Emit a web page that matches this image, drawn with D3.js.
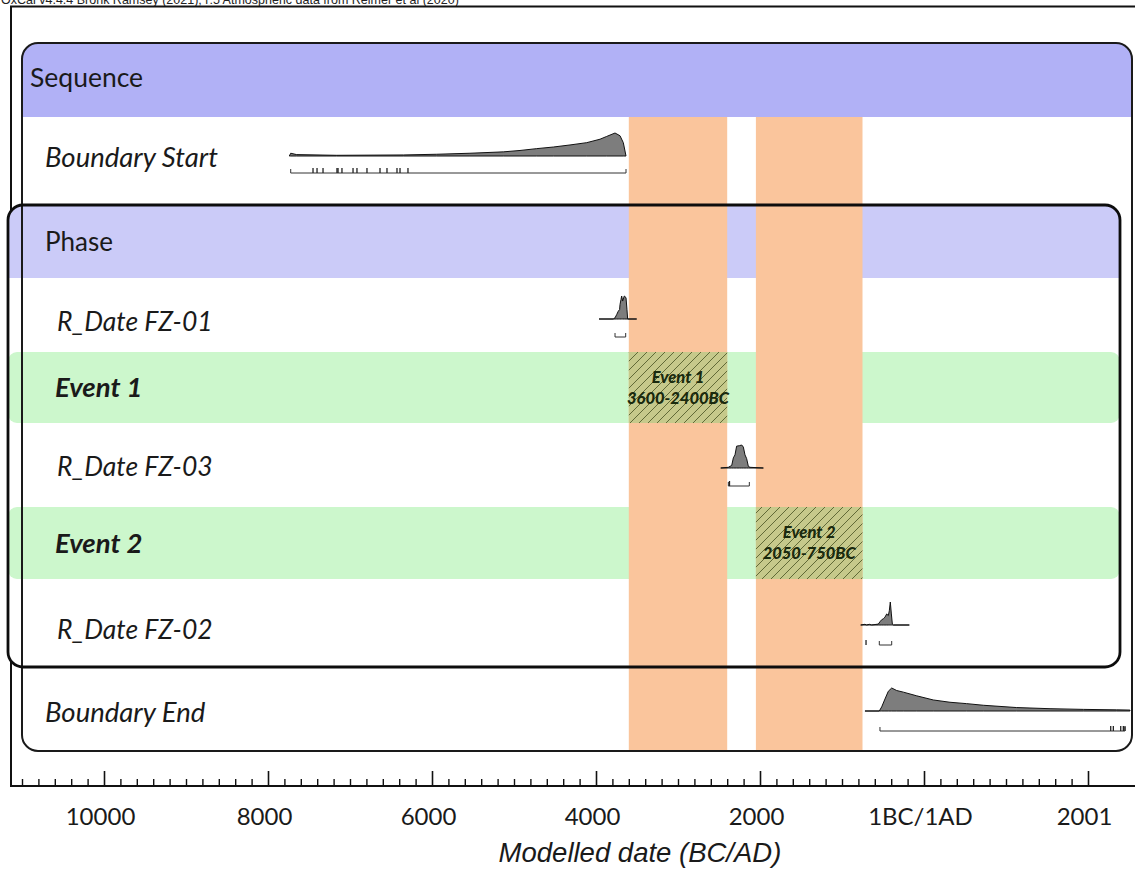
<!DOCTYPE html>
<html>
<head>
<meta charset="utf-8">
<script src="https://cdn.jsdelivr.net/npm/d3@7"></script>
<style>
  body { margin: 0; background: #fff; }
  svg { display: block; }
</style>
</head>
<body>
<svg id="chart" width="1135" height="877"></svg>
<script>
// ---- Data -----------------------------------------------------------------
// Axis ticks (astronomical year, 1BC/1AD boundary at 0)
const tickYears  = [-10000, -8000, -6000, -4000, -2000, 0, 2000];
const tickLabels = ["10000", "8000", "6000", "4000", "2000", "1BC/1AD", "2001"];
const minorTickYears = d3.range(-11000, 2001, 200);

// Highlighted event ranges (BC)
const eventNames  = ["Event 1", "Event 2"];
const eventRanges = [[-3600, -2400], [-2050, -750]];
const eventTexts  = ["3600-2400BC", "2050-750BC"];

// Posterior distributions: [year, relative probability]
const boundaryStartProb = [
  [-7740, 0], [-7723, 0.12], [-7650, 0.06], [-7162, 0.03], [-6350, 0.045],
  [-5943, 0.076], [-5537, 0.12], [-5130, 0.18], [-4927, 0.24], [-4723, 0.32],
  [-4520, 0.39], [-4317, 0.48], [-4113, 0.58], [-3951, 0.73], [-3870, 0.85],
  [-3768, 1.0], [-3707, 0.88], [-3667, 0.58], [-3634, 0]
];
const fz01Prob = [
  [-3963, 0], [-3790, 0], [-3768, 0.05], [-3748, 0.19], [-3728, 0.34],
  [-3712, 0.41], [-3707, 0.63], [-3695, 0.85], [-3687, 1.0], [-3675, 0.78],
  [-3655, 1.0], [-3634, 0.93], [-3622, 0.4], [-3614, 0], [-3504, 0]
];
const fz03Prob = [
  [-2479, 0], [-2386, 0.03], [-2366, 0.07], [-2345, 0.11], [-2325, 0.44],
  [-2305, 0.57], [-2285, 0.95], [-2252, 0.97], [-2223, 1.0], [-2203, 0.91],
  [-2183, 0.57], [-2163, 0.41], [-2142, 0.07], [-2122, 0.03], [-1959, 0]
];
const fz02Prob = [
  [-772, 0], [-720, 0.03], [-700, 0], [-667, 0.03], [-638, 0], [-557, 0.04],
  [-537, 0.14], [-516, 0.23], [-496, 0.27], [-476, 0.34], [-455, 0.48],
  [-435, 0.41], [-423, 0.62], [-411, 1.0], [-398, 0.48], [-386, 0.04],
  [-374, 0], [-179, 0]
];
const boundaryEndProb = [
  [-720, 0], [-545, 0], [-516, 0.18], [-476, 0.52], [-435, 0.86], [-394, 1.0],
  [-333, 0.89], [-252, 0.82], [-89, 0.66], [113, 0.48], [317, 0.38],
  [520, 0.32], [723, 0.25], [1130, 0.15], [1537, 0.1], [1943, 0.07],
  [2350, 0.05], [2512, 0.04]
];

// 95.4% ranges and 68.2% sub-ranges
const boundaryStartRange = [-7723, -3634];
const boundaryStartSub = [[-7451, -7402], [-7329, -7159], [-7146, -7098],
  [-6963, -6915], [-6793, -6793], [-6634, -6634], [-6549, -6427], [-6390, -6293]];
const fz01Range = [-3768, -3638];
const fz03Range = [-2386, -2130];
const fz03Sub = [[-2372, -2372]];
const fz02Range = [-545, -394];
const fz02Sub = [[-707, -707]];
const boundaryEndRange = [-537, 2451];
const boundaryEndSub = [[2277, 2309], [2399, 2399], [2431, 2451]];

// ---- Layout -----------------------------------------------------------------
const svg = d3.select("#chart");
const W = 1135;
const axisY = 786;

const x = d3.scaleLinear().domain([-10000, 2000]).range([104, 1088]);
const h = d3.scaleLinear().domain([0, 1]).range([0, 23]);

const seqBox   = { x0: 22, x1: 1132, y0: 43, y1: 751, head: 117 };
const phaseBox = { x0: 8, x1: 1120, y0: 205, y1: 667, head: 278 };
const eventBands = [{ y0: 352, y1: 423 }, { y0: 507, y1: 579 }];

const defs = svg.append("defs");
defs.append("clipPath").attr("id", "seqClip").append("rect")
  .attr("x", seqBox.x0).attr("y", seqBox.y0)
  .attr("width", seqBox.x1 - seqBox.x0).attr("height", seqBox.y1 - seqBox.y0)
  .attr("rx", 16);
defs.append("clipPath").attr("id", "phaseClip").append("rect")
  .attr("x", phaseBox.x0).attr("y", phaseBox.y0)
  .attr("width", phaseBox.x1 - phaseBox.x0).attr("height", phaseBox.y1 - phaseBox.y0)
  .attr("rx", 15);

const hatch = defs.append("pattern").attr("id", "hatch")
  .attr("patternUnits", "userSpaceOnUse").attr("width", 9).attr("height", 9);
hatch.append("rect").attr("width", 9).attr("height", 9).attr("fill", "#c6c98b");
hatch.append("path").attr("d", "M-1,1 l2,-2 M0,9 l9,-9 M8,10 l2,-2")
  .attr("stroke", "#56602e").attr("stroke-width", 0.9);

// Header line of the program output
svg.append("text").attr("x", 1).attr("y", 4)
  .style("font-family", "'Liberation Sans', Arial, sans-serif").style("font-size", "12.5px")
  .attr("fill", "#222")
  .text("OxCal v4.4.4 Bronk Ramsey (2021); r:5 Atmospheric data from Reimer et al (2020)");

// Outer frame (its bottom edge is the date axis)
svg.append("path")
  .attr("d", `M${W + 5},6.5 H11 V${axisY} H${W + 5}`)
  .attr("fill", "none").attr("stroke", "#111").attr("stroke-width", 2);

// Sequence box
svg.append("rect")
  .attr("x", seqBox.x0).attr("y", seqBox.y0)
  .attr("width", seqBox.x1 - seqBox.x0).attr("height", seqBox.y1 - seqBox.y0)
  .attr("rx", 16).attr("fill", "#fff");
svg.append("rect").attr("clip-path", "url(#seqClip)")
  .attr("x", seqBox.x0).attr("y", seqBox.y0)
  .attr("width", seqBox.x1 - seqBox.x0).attr("height", seqBox.head - seqBox.y0)
  .attr("fill", "#b1b1f6");

// Phase box
svg.append("rect")
  .attr("x", phaseBox.x0).attr("y", phaseBox.y0)
  .attr("width", phaseBox.x1 - phaseBox.x0).attr("height", phaseBox.y1 - phaseBox.y0)
  .attr("rx", 15).attr("fill", "#fff");
svg.append("rect").attr("clip-path", "url(#phaseClip)")
  .attr("x", phaseBox.x0).attr("y", phaseBox.y0)
  .attr("width", phaseBox.x1 - phaseBox.x0).attr("height", phaseBox.head - phaseBox.y0)
  .attr("fill", "#cbcbf8");

// Event rows
svg.selectAll("rect.eventBand").data(eventBands).join("rect")
  .attr("class", "eventBand")
  .attr("x", phaseBox.x0).attr("y", d => d.y0)
  .attr("width", phaseBox.x1 - phaseBox.x0).attr("height", d => d.y1 - d.y0)
  .attr("rx", 9).attr("fill", "#ccf7cc");

// Event date ranges spanning the sequence
svg.selectAll("rect.eventSpan").data(eventRanges).join("rect")
  .attr("class", "eventSpan")
  .attr("x", d => x(d[0])).attr("width", d => x(d[1]) - x(d[0]))
  .attr("y", seqBox.head).attr("height", seqBox.y1 - seqBox.head)
  .attr("fill", "#fac59c");

// Box outlines
svg.append("rect")
  .attr("x", seqBox.x0).attr("y", seqBox.y0)
  .attr("width", seqBox.x1 - seqBox.x0).attr("height", seqBox.y1 - seqBox.y0)
  .attr("rx", 16).attr("fill", "none").attr("stroke", "#1a1a1a").attr("stroke-width", 2);
svg.append("rect")
  .attr("x", phaseBox.x0).attr("y", phaseBox.y0)
  .attr("width", phaseBox.x1 - phaseBox.x0).attr("height", phaseBox.y1 - phaseBox.y0)
  .attr("rx", 15).attr("fill", "none").attr("stroke", "#0d0d0d").attr("stroke-width", 2.8);

// Hatched event boxes with their labels
eventRanges.forEach((r, i) => {
  const band = eventBands[i];
  svg.append("rect")
    .attr("x", x(r[0])).attr("width", x(r[1]) - x(r[0]))
    .attr("y", band.y0).attr("height", band.y1 - band.y0)
    .attr("fill", "url(#hatch)");
  const cx = (x(r[0]) + x(r[1])) / 2, cy = (band.y0 + band.y1) / 2;
  const t = svg.append("text").attr("text-anchor", "middle")
    .style("font-family", "Lato, 'Open Sans', sans-serif")
    .style("font-weight", "900").style("font-style", "italic").style("font-size", "16.5px")
    .attr("fill", "#1a2a0e");
  t.append("tspan").attr("x", cx).attr("y", cy - 5).text(eventNames[i]);
  t.append("tspan").attr("x", cx).attr("y", cy + 16).text(eventTexts[i]);
});

// Distributions
const rows = [
  { prob: boundaryStartProb, base: 156, range: boundaryStartRange, sub: boundaryStartSub, rangeY: 173 },
  { prob: fz01Prob,          base: 319, range: fz01Range,          sub: [],               rangeY: 337 },
  { prob: fz03Prob,          base: 468, range: fz03Range,          sub: fz03Sub,          rangeY: 486 },
  { prob: fz02Prob,          base: 625, range: fz02Range,          sub: fz02Sub,          rangeY: 645 },
  { prob: boundaryEndProb,   base: 711, range: boundaryEndRange,   sub: boundaryEndSub,   rangeY: 731 }
];

rows.forEach(row => {
  const area = d3.area()
    .x(d => x(d[0])).y0(row.base).y1(d => row.base - h(d[1]));
  svg.append("path").datum(row.prob).attr("d", area)
    .attr("fill", "#7d7d7d").attr("stroke", "#111").attr("stroke-width", 1)
    .attr("stroke-linejoin", "round");
  const [a, b] = row.range;
  svg.append("path")
    .attr("d", `M${x(a)},${row.rangeY - 4} V${row.rangeY} H${x(b)} V${row.rangeY - 4}`)
    .attr("fill", "none").attr("stroke", "#333").attr("stroke-width", 1);
  // 68.2% sub-ranges drawn as short end marks
  svg.selectAll(null).data(row.sub.flatMap(d => d[0] === d[1] ? [d[0]] : [d[0], d[1]]))
    .join("line")
    .attr("x1", d => x(d)).attr("x2", d => x(d))
    .attr("y1", row.rangeY - 5).attr("y2", row.rangeY)
    .attr("stroke", "#222").attr("stroke-width", 1.3);
});

// Row labels
const labelFont = "Lato, 'Open Sans', sans-serif";
const labels = [
  { text: "Sequence",       x: 30, y: 87,  style: "normal", weight: "normal", size: 26.5 },
  { text: "Boundary Start", x: 45, y: 167, style: "italic", weight: "normal", size: 27.5 },
  { text: "Phase",          x: 45, y: 251, style: "normal", weight: "normal", size: 26 },
  { text: "R_Date FZ-01",   x: 57, y: 331, style: "italic", weight: "normal", size: 26.5 },
  { text: "Event 1",        x: 55, y: 397, style: "italic", weight: "bold",   size: 27.5 },
  { text: "R_Date FZ-03",   x: 57, y: 476, style: "italic", weight: "normal", size: 26.5 },
  { text: "Event 2",        x: 55, y: 553, style: "italic", weight: "bold",   size: 27.5 },
  { text: "R_Date FZ-02",   x: 57, y: 639, style: "italic", weight: "normal", size: 26.5 },
  { text: "Boundary End",   x: 45, y: 722, style: "italic", weight: "normal", size: 27.5 }
];
svg.selectAll("text.rowLabel").data(labels).join("text")
  .attr("class", "rowLabel")
  .attr("x", d => d.x).attr("y", d => d.y)
  .style("font-family", labelFont).style("font-size", d => d.size + "px")
  .style("font-style", d => d.style).style("font-weight", d => d.weight)
  .attr("fill", "#1a1a1a")
  .text(d => d.text);

// Date axis
const axisG = svg.append("g").attr("transform", `translate(0,${axisY})`);
axisG.append("g")
  .call(d3.axisBottom(x).tickValues(minorTickYears.filter(v => !tickYears.includes(v)))
    .tickSize(-7).tickSizeOuter(0).tickFormat(""))
  .call(g => g.select(".domain").remove())
  .call(g => g.selectAll("line").attr("stroke", "#111").attr("stroke-width", 1.4));
axisG.append("g")
  .call(d3.axisBottom(x).tickValues(tickYears).tickFormat((d, i) => tickLabels[i])
    .tickSize(-15).tickSizeOuter(0).tickPadding(22))
  .call(g => g.select(".domain").remove())
  .call(g => g.selectAll("line").attr("stroke", "#111").attr("stroke-width", 1.6))
  .call(g => g.selectAll("text").attr("dx", -4)
    .style("font-family", labelFont).style("font-size", "24px").attr("fill", "#1a1a1a"));

svg.append("text")
  .attr("x", 640).attr("y", 862).attr("text-anchor", "middle")
  .style("font-family", "'Liberation Sans', Arial, sans-serif")
  .style("font-style", "italic").style("font-size", "27.5px").attr("fill", "#1a1a1a")
  .text("Modelled date (BC/AD)");
</script>
</body>
</html>
